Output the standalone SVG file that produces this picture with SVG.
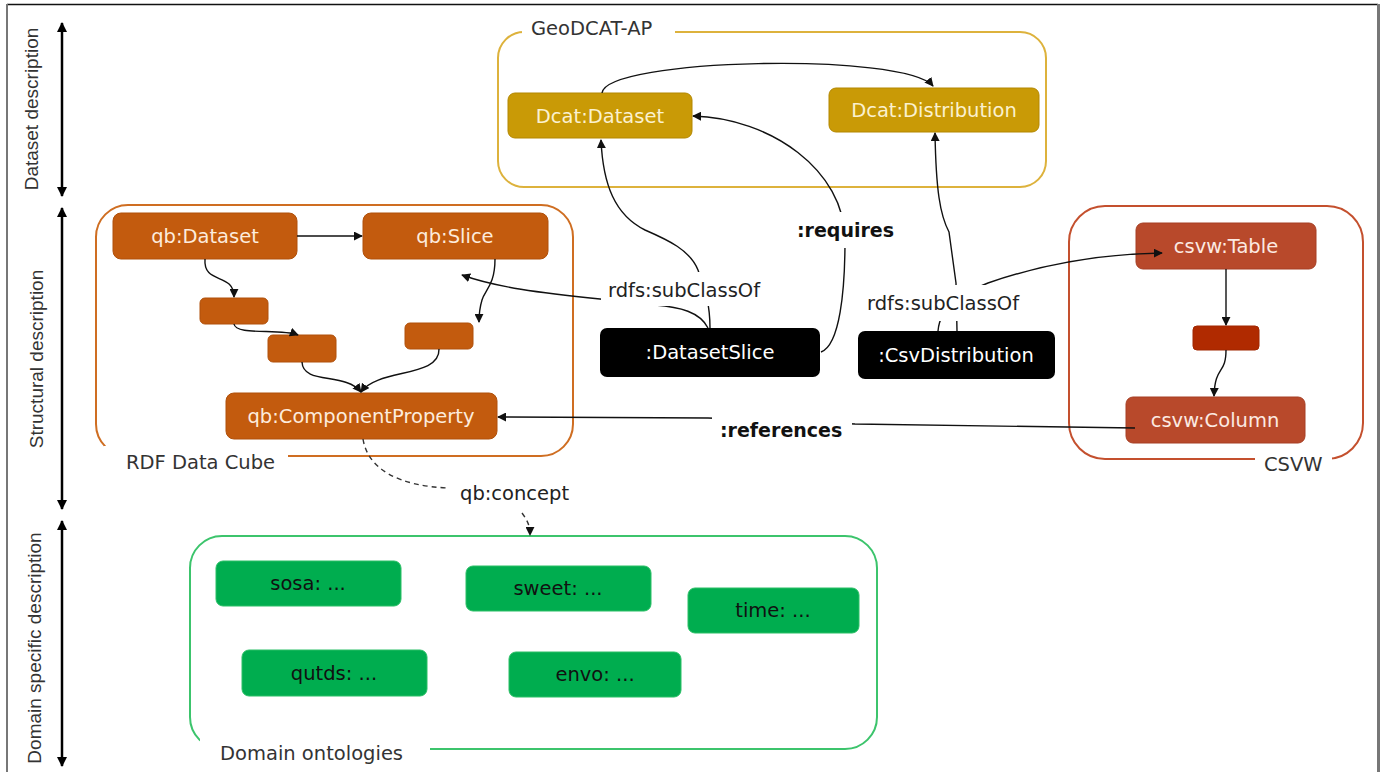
<svg xmlns="http://www.w3.org/2000/svg" width="1382" height="772" viewBox="0 0 1382 772">
<style>
.lbl{font-family:"DejaVu Sans",Verdana,sans-serif;font-size:19.5px}
.ax{font-family:"Liberation Sans",Arial,sans-serif;font-size:19px;fill:#333;text-anchor:middle}
.nt{font-family:"DejaVu Sans",Verdana,sans-serif;font-size:19.5px;text-anchor:middle}
.gold rect{fill:#C99A06;stroke:#B38700;stroke-width:1}
.gold text{fill:#FBF1CF}
.qb rect{fill:#C35B0E;stroke:#B0500A;stroke-width:1}
.qb text{fill:#FDEBDC}
.cs rect{fill:#B8492B;stroke:#A63F24;stroke-width:1}
.cs text{fill:#FCEAE2}
.blk rect{fill:#000}
.blk text{fill:#fff}
.grn rect{fill:#00AD4F;stroke:#2BBF66;stroke-width:1}
.grn text{fill:#111}
.conn path{fill:none;stroke:#111;stroke-width:1.4}
.grp{fill:none;stroke-width:2}
</style>
<defs>
<marker id="ah" viewBox="0 0 10 10" refX="9" refY="5" markerWidth="9" markerHeight="9" markerUnits="userSpaceOnUse" orient="auto"><path d="M0,0 L10,5 L0,10 z" fill="#111"/></marker>
<marker id="axh" viewBox="0 0 10 10" refX="9" refY="5" markerWidth="10" markerHeight="10" markerUnits="userSpaceOnUse" orient="auto-start-reverse"><path d="M0,0 L10,5 L0,10 z" fill="#000"/></marker>
</defs>
<rect x="0" y="0" width="1382" height="772" fill="#fff"/>
<!-- frame -->
<line x1="7" y1="4.5" x2="1378" y2="4.5" stroke="#111" stroke-width="1.5"/>
<line x1="7" y1="4" x2="7" y2="772" stroke="#777" stroke-width="2"/>
<line x1="1378.5" y1="4" x2="1378.5" y2="772" stroke="#777" stroke-width="3"/>
<!-- axis -->
<g id="axis">
<line x1="62" y1="23" x2="62" y2="196" stroke="#000" stroke-width="2.5" marker-start="url(#axh)" marker-end="url(#axh)"/>
<line x1="62" y1="208" x2="62" y2="509" stroke="#000" stroke-width="2.5" marker-start="url(#axh)" marker-end="url(#axh)"/>
<line x1="62" y1="521" x2="62" y2="766" stroke="#000" stroke-width="2.5" marker-start="url(#axh)" marker-end="url(#axh)"/>
<text class="ax" transform="translate(38,109) rotate(-90)">Dataset description</text>
<text class="ax" transform="translate(43,359) rotate(-90)">Structural description</text>
<text class="ax" transform="translate(41,648) rotate(-90)">Domain specific description</text>
</g>
<!-- groups -->
<g id="grp-geodcat">
<rect class="grp" x="498" y="32" width="548" height="155" rx="26" stroke="#DDB23C"/>
<rect x="522" y="20" width="153" height="26" fill="#fff"/>
<text class="lbl" x="531" y="35" fill="#333">GeoDCAT-AP</text>
</g>
<g id="grp-rdf">
<rect class="grp" x="96" y="205" width="477" height="251" rx="32" stroke="#CF6E22"/>
<rect x="104" y="446" width="184" height="26" fill="#fff"/>
<text class="lbl" x="126" y="469" fill="#333">RDF Data Cube</text>
</g>
<g id="grp-csvw">
<rect class="grp" x="1069" y="206" width="294" height="253" rx="36" stroke="#C4502E"/>
<rect x="1255" y="449" width="77" height="26" fill="#fff"/>
<text class="lbl" x="1264" y="471" fill="#333">CSVW</text>
</g>
<g id="grp-domain">
<rect class="grp" x="190" y="536" width="687" height="213" rx="32" stroke="#3CC46C"/>
<rect x="200" y="739" width="230" height="30" fill="#fff"/>
<text class="lbl" x="220" y="760" fill="#333">Domain ontologies</text>
</g>
<!-- nodes -->
<g id="n-dcat-dataset" class="gold"><rect x="508" y="93" width="184" height="45" rx="7"/><text class="nt" x="600" y="123">Dcat:Dataset</text></g>
<g id="n-dcat-distribution" class="gold"><rect x="829" y="88" width="210" height="44" rx="7"/><text class="nt" x="934" y="117">Dcat:Distribution</text></g>
<g id="n-qb-dataset" class="qb"><rect x="113" y="213" width="184" height="46" rx="8"/><text class="nt" x="205" y="243">qb:Dataset</text></g>
<g id="n-qb-slice" class="qb"><rect x="363" y="213" width="185" height="46" rx="8"/><text class="nt" x="455" y="243">qb:Slice</text></g>
<g id="n-qb-b1" class="qb"><rect x="200" y="298" width="68" height="26" rx="5"/></g>
<g id="n-qb-b2" class="qb"><rect x="268" y="335" width="68" height="27" rx="5"/></g>
<g id="n-qb-b3" class="qb"><rect x="405" y="323" width="68" height="26" rx="5"/></g>
<g id="n-qb-cp" class="qb"><rect x="226" y="393" width="271" height="46" rx="8"/><text class="nt" x="361" y="423">qb:ComponentProperty</text></g>
<g id="n-datasetslice" class="blk"><rect x="600" y="328" width="220" height="49" rx="7"/><text class="nt" x="710" y="359">:DatasetSlice</text></g>
<g id="n-csvdistribution" class="blk"><rect x="858" y="331" width="197" height="48" rx="7"/><text class="nt" x="956" y="362">:CsvDistribution</text></g>
<g id="n-csvw-table" class="cs"><rect x="1136" y="223" width="180" height="46" rx="7"/><text class="nt" x="1226" y="253">csvw:Table</text></g>
<g id="n-csvw-mid" class="cs"><rect x="1193" y="326" width="66" height="24" rx="4" style="fill:#B02A00;stroke:#A02600"/></g>
<g id="n-csvw-column" class="cs"><rect x="1126" y="397" width="179" height="46" rx="7"/><text class="nt" x="1215" y="427">csvw:Column</text></g>
<g id="n-sosa" class="grn"><rect x="216" y="561" width="185" height="45" rx="7"/><text class="nt" x="308" y="590">sosa: ...</text></g>
<g id="n-sweet" class="grn"><rect x="466" y="566" width="185" height="45" rx="7"/><text class="nt" x="558" y="595">sweet: ...</text></g>
<g id="n-time" class="grn"><rect x="688" y="588" width="171" height="45" rx="7"/><text class="nt" x="773" y="617">time: ...</text></g>
<g id="n-qutds" class="grn"><rect x="242" y="650" width="185" height="46" rx="7"/><text class="nt" x="334" y="680">qutds: ...</text></g>
<g id="n-envo" class="grn"><rect x="509" y="652" width="172" height="45" rx="7"/><text class="nt" x="595" y="681">envo: ...</text></g>
<!-- connectors -->
<g id="connectors" class="conn">
<path d="M602 93 C606 58 905 52 933 86" marker-end="url(#ah)"/>
<path d="M710 328 C710 300 703 285 698 270 C690 250 668 240 645 230 C615 215 603 185 601 140" marker-end="url(#ah)"/>
<path d="M708 328 C700 312 680 307 655 305 L600 299 C540 293 495 287 462 275" marker-end="url(#ah)"/>
<path d="M821 352 C840 345 845 290 845 240 C845 170 770 118 693 116" marker-end="url(#ah)"/>
<path d="M957 331 L956 283 L949 232 C940 215 936 190 935 133" marker-end="url(#ah)"/>
<path d="M938 331 C940 305 965 292 988 283 C1040 265 1100 254 1162 253" marker-end="url(#ah)"/>
<path d="M1135 428 L855 424 L708 418 L498 417" marker-end="url(#ah)"/>
<path d="M297 236 L362 236" marker-end="url(#ah)"/>
<path d="M205 259 C203 285 234 272 234 297" marker-end="url(#ah)"/>
<path d="M234 324 C236 336 280 328 298 335" marker-end="url(#ah)"/>
<path d="M495 259 C495 285 485 290 482 300 C479 310 479 315 479 322" marker-end="url(#ah)"/>
<path d="M302 362 C303 385 345 372 361 392" marker-end="url(#ah)"/>
<path d="M439 349 C440 378 378 368 361 392" marker-end="url(#ah)"/>
<path d="M1226 269 L1226 325" marker-end="url(#ah)"/>
<path d="M1226 350 C1226 375 1215 365 1214 396" marker-end="url(#ah)"/>
<path d="M363 439 C368 470 400 486 448 488" stroke-dasharray="5,4" style="stroke:#333"/>
<path d="M522 513 C527 520 530 525 530 535" stroke-dasharray="5,4" style="stroke:#333" marker-end="url(#ah)"/>
</g>
<!-- connector labels -->
<g id="edge-labels">
<rect x="601" y="272" width="166" height="34" fill="#fff"/>
<text class="lbl" x="608" y="297" fill="#222">rdfs:subClassOf</text>
<rect x="862" y="285" width="165" height="36" fill="#fff"/>
<text class="lbl" x="867" y="310" fill="#222">rdfs:subClassOf</text>
<rect x="792" y="212" width="104" height="36" fill="#fff"/>
<text class="lbl" x="797" y="237" fill="#111" font-weight="bold" style="font-size:19px">:requires</text>
<rect x="712" y="410" width="140" height="36" fill="#fff"/>
<text class="lbl" x="720" y="437" fill="#111" font-weight="bold" style="font-size:19px">:references</text>
<text class="lbl" x="460" y="500" fill="#222">qb:concept</text>
</g>
</svg>
